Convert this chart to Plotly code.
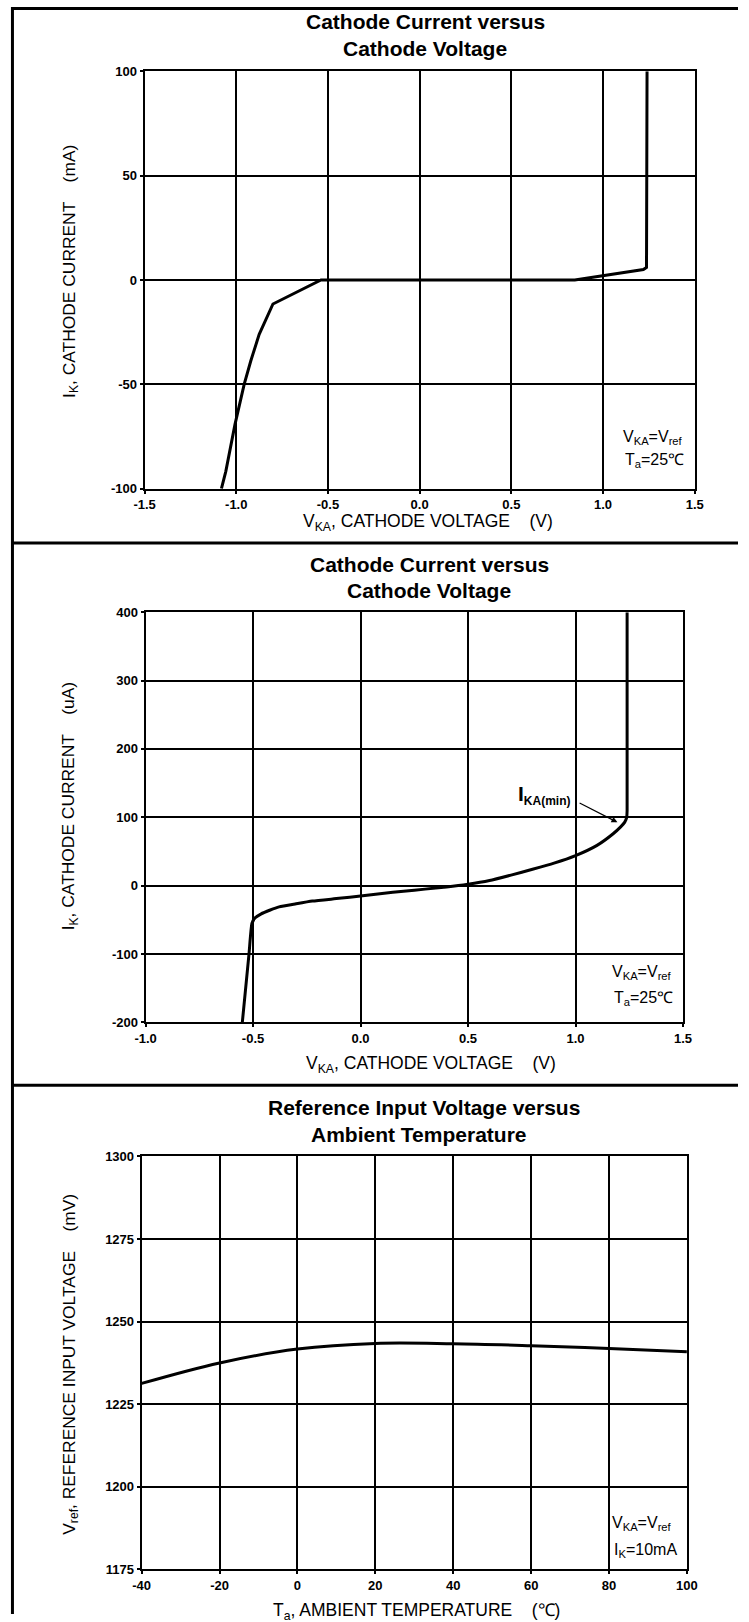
import plotly.graph_objects as go

# ---------------- data ----------------
# Chart 1: cathode current (mA) vs cathode voltage (V)
vka_1 = [-1.081, -1.057, -1.007, -0.957, -0.921, -0.875, -0.80, -0.538, 0.0, 0.846, 1.22, 1.237, 1.24]
ik_1 = [-100, -91.7, -69.2, -50, -38.8, -26, -11.5, 0, 0, 0, 5, 6, 100]

# Chart 2: cathode current (uA) vs cathode voltage (V)
vka_2 = [-0.55, -0.519, -0.505, -0.49, -0.464, -0.42, -0.379, -0.3, -0.224, -0.1, 0.0, 0.1, 0.2,
         0.3, 0.4, 0.5, 0.6, 0.7, 0.8, 0.9, 1.0, 1.1, 1.175, 1.21, 1.229, 1.238, 1.24, 1.24]
ik_2 = [-200, -100, -55, -47, -41.5, -35.5, -31, -26.5, -22.5, -18.5, -15, -11.5, -8,
        -5, -2, 2, 7.5, 15.5, 24, 33, 44, 59, 76, 86, 93, 100, 110, 400]

# Chart 3: reference input voltage (mV) vs ambient temperature (C)
temp_3 = [-40, -20, 0, 20, 40, 60, 80, 100]
vref_3 = [1231.3, 1237.5, 1241.7, 1243.4, 1243.3, 1242.7, 1241.9, 1240.9]

# ticks
x1_ticks = [-1.5, -1.0, -0.5, 0.0, 0.5, 1.0, 1.5]
x1_labels = ["-1.5", "-1.0", "-0.5", "0.0", "0.5", "1.0", "1.5"]
y1_ticks = [-100, -50, 0, 50, 100]
y1_labels = ["-100", "-50", "0", "50", "100"]
x2_ticks = [-1.0, -0.5, 0.0, 0.5, 1.0, 1.5]
x2_labels = ["-1.0", "-0.5", "0.0", "0.5", "1.0", "1.5"]
y2_ticks = [-200, -100, 0, 100, 200, 300, 400]
y2_labels = ["-200", "-100", "0", "100", "200", "300", "400"]
x3_ticks = [-40, -20, 0, 20, 40, 60, 80, 100]
x3_labels = ["-40", "-20", "0", "20", "40", "60", "80", "100"]
y3_ticks = [1175, 1200, 1225, 1250, 1275, 1300]
y3_labels = ["1175", "1200", "1225", "1250", "1275", "1300"]

W, H = 749, 1622
FONT = "Liberation Sans, Arial, sans-serif"
NB = "\u00a0"

# observed page -> picture mapping of the capture (scale, offset)
SX, OX = 0.9686, 12.4
SY, OY = 0.990, 7.0


def px(x):
    return max((x - OX) / SX, 1.5) / W


def py(y):
    return 1 - max((y - OY) / SY, 1.5) / H


fig = go.Figure()
fig.add_trace(go.Scatter(x=vka_1, y=ik_1, mode="lines", line=dict(color="black", width=3),
                         xaxis="x", yaxis="y"))
fig.add_trace(go.Scatter(x=vka_2, y=ik_2, mode="lines",
                         line=dict(color="black", width=3, shape="spline", smoothing=0.5),
                         xaxis="x2", yaxis="y2"))
fig.add_trace(go.Scatter(x=temp_3, y=vref_3, mode="lines",
                         line=dict(color="black", width=3, shape="spline"),
                         xaxis="x3", yaxis="y3"))


def axis(domain, rng, ticks, labels, anchor):
    return dict(
        domain=domain, range=rng, tickvals=ticks, ticktext=labels, anchor=anchor,
        showgrid=True, gridcolor="black", gridwidth=1.5,
        showline=True, linecolor="black", linewidth=2, mirror=True,
        zeroline=False, ticks="outside", ticklen=3, tickcolor="black", tickwidth=1.5,
        tickfont=dict(family=FONT, size=13, color="black", weight="bold"),
        fixedrange=True,
    )


fig.update_layout(
    width=W, height=H, margin=dict(l=0, r=0, t=0, b=0),
    paper_bgcolor="white", plot_bgcolor="white", showlegend=False,
    xaxis=axis([px(145.7), px(694.7)], [-1.5, 1.5], x1_ticks, x1_labels, "y"),
    yaxis=axis([py(488.3), py(71.3)], [-100, 100], y1_ticks, y1_labels, "x"),
    xaxis2=axis([px(146.7), px(683)], [-1.0, 1.5], x2_ticks, x2_labels, "y2"),
    yaxis2=axis([py(1021.7), py(611.7)], [-200, 400], y2_ticks, y2_labels, "x2"),
    xaxis3=axis([px(142.8), px(686.9)], [-40, 100], x3_ticks, x3_labels, "y3"),
    yaxis3=axis([py(1568.3), py(1155.5)], [1175, 1300], y3_ticks, y3_labels, "x3"),
)

ann = []


def text(x, y, s, size=16, bold=False, angle=0, xanchor="center"):
    ann.append(dict(x=px(x), y=py(y), xref="paper", yref="paper", text=s, showarrow=False,
                    xanchor=xanchor, yanchor="middle", textangle=angle,
                    font=dict(family=FONT, size=size, color="black", weight="bold" if bold else "normal")))


# titles
text(426, 21, "Cathode Current versus", 21, True)
text(426, 48, "Cathode Voltage", 21, True)
text(430, 564, "Cathode Current versus", 21, True)
text(430, 590, "Cathode Voltage", 21, True)
text(425, 1107, "Reference Input Voltage versus", 21, True)
text(420, 1134, "Ambient Temperature", 21, True)

# axis titles
text(429, 522, "V<sub>KA</sub>, CATHODE VOLTAGE" + NB * 4 + "(V)", 17.5)
text(432, 1064, "V<sub>KA</sub>, CATHODE VOLTAGE" + NB * 4 + "(V)", 17.5)
text(417, 1610, "T<sub>a</sub>, AMBIENT TEMPERATURE" + NB * 4 + "(\u2103)", 17.5)
text(71, 271, "I<sub>K</sub>, CATHODE CURRENT" + NB * 4 + "(mA)", 17.4, angle=-90)
text(71, 806, "I<sub>K</sub>, CATHODE CURRENT" + NB * 4 + "(uA)", 17.4, angle=-90)
text(71, 1363, "V<sub>ref</sub>, REFERENCE INPUT VOLTAGE" + NB * 4 + "(mV)", 17.4, angle=-90)

# conditions
text(621, 437, "V<sub>KA</sub>=V<sub>ref</sub>", 16, xanchor="left")
text(623, 460, "T<sub>a</sub>=25\u2103", 16, xanchor="left")
text(610, 972, "V<sub>KA</sub>=V<sub>ref</sub>", 16, xanchor="left")
text(612, 998, "T<sub>a</sub>=25\u2103", 16, xanchor="left")
text(610, 1522, "V<sub>KA</sub>=V<sub>ref</sub>", 16, xanchor="left")
text(612, 1549, "I<sub>K</sub>=10mA", 16, xanchor="left")

# I_KA(min) label and arrow
ann.append(dict(x=0.988, y=133, xref="x2", yref="y2",
                text="I<sub><span style='font-size:12px'>KA(min)</span></sub>", showarrow=False,
                xanchor="right", yanchor="middle",
                font=dict(family=FONT, size=21, color="black", weight="bold")))
ann.append(dict(x=1.195, y=92.7, xref="x2", yref="y2", ax=1.012, ay=122, axref="x2", ayref="y2",
                text="", showarrow=True, arrowhead=2, arrowsize=1, arrowwidth=1.2, arrowcolor="black"))

fig.update_layout(annotations=ann)

# page frame
frame = dict(color="black", width=3)
shapes = [
    dict(type="line", xref="paper", yref="paper", x0=px(6.5), x1=px(6.5), y0=0, y1=1, line=frame),
    dict(type="line", xref="paper", yref="paper", x0=px(6.5), x1=1, y0=py(1.5), y1=py(1.5), line=frame),
    dict(type="line", xref="paper", yref="paper", x0=px(6.5), x1=1, y0=py(542.5), y1=py(542.5), line=frame),
    dict(type="line", xref="paper", yref="paper", x0=px(6.5), x1=1, y0=py(1084.5), y1=py(1084.5), line=frame),
]
fig.update_layout(shapes=shapes)

fig.write_html(
    "out.html",
    config={"displayModeBar": False},
    post_script="document.body.style.margin='0';document.documentElement.style.overflow='hidden';",
)
